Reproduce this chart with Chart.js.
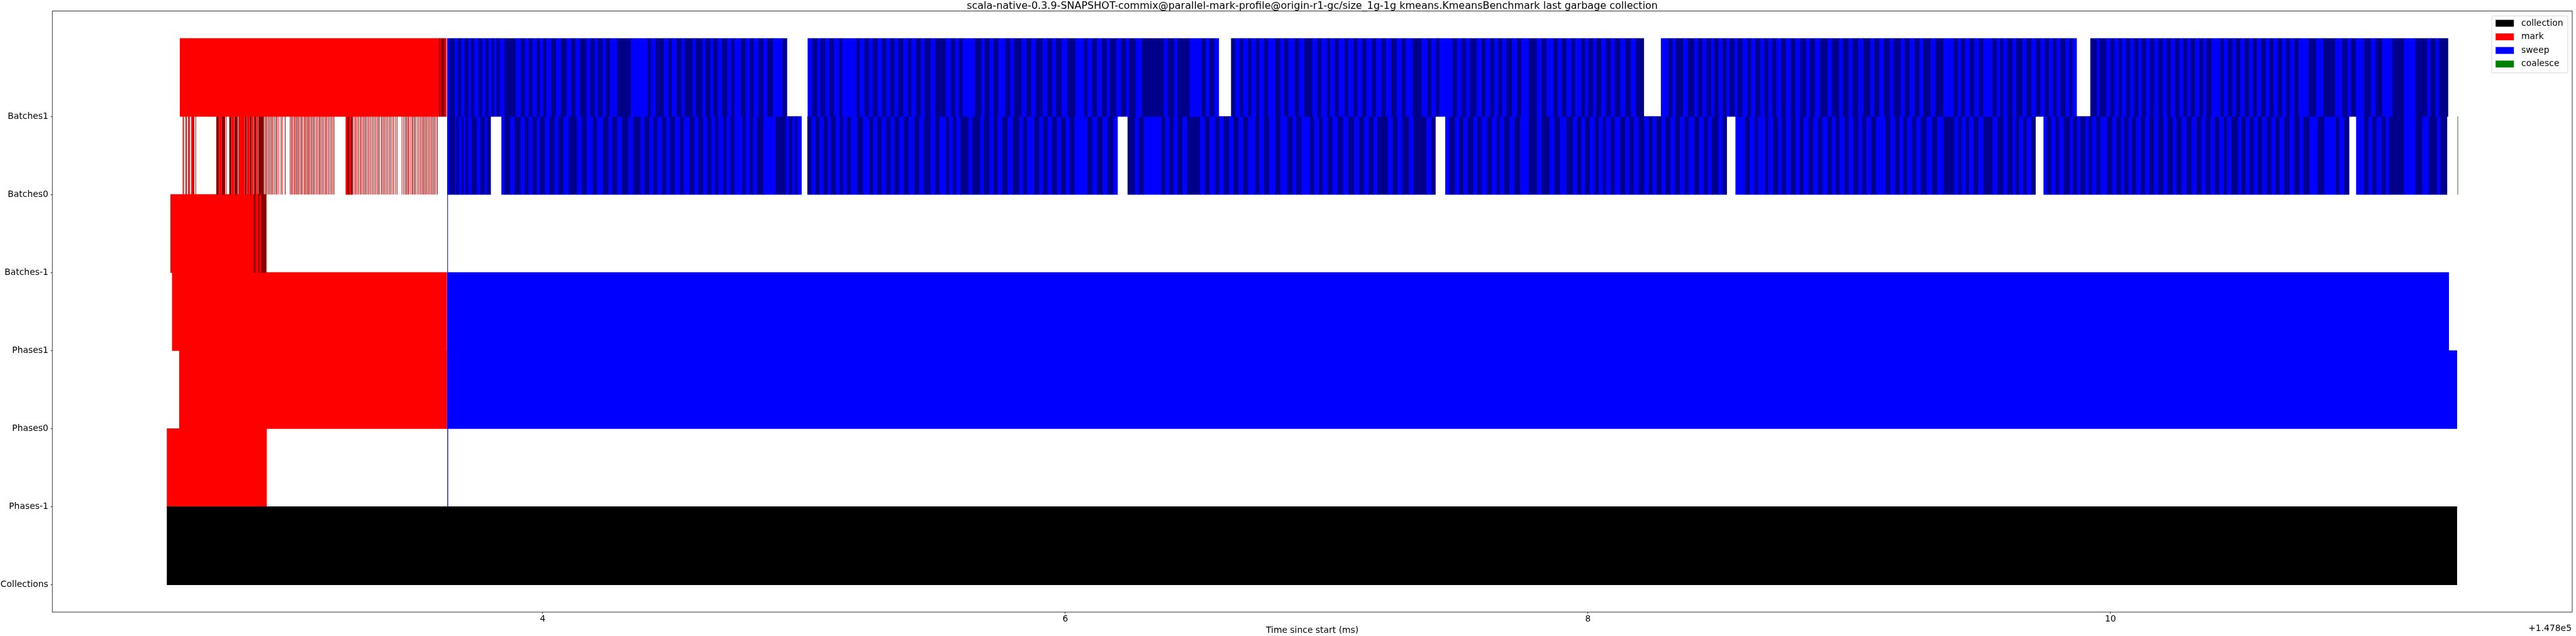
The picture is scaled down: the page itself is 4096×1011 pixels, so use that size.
<!DOCTYPE html>
<html>
<head>
<meta charset="utf-8">
<script src="https://cdn.jsdelivr.net/npm/chart.js@4.4.0/dist/chart.umd.min.js"></script>
<style>
    html, body { margin: 0; padding: 0; background: #fff; overflow: hidden; }
</style>
</head>
<body>
<canvas id="gcChart" width="4096" height="1011"></canvas>
<script>
// Textes
const chartTitle = "scala-native-0.3.9-SNAPSHOT-commix@parallel-mark-profile@origin-r1-gc/size_1g-1g kmeans.KmeansBenchmark last garbage collection";
const xTitle = "Time since start (ms)";
const xOffsetLabel = "+1.478e5";
const rowLabels = ["Collections", "Phases-1", "Phases0", "Phases1", "Batches-1", "Batches0", "Batches1"];
const rowTicks = [0, 1, 2, 3, 4, 5, 6];
const xTicks = [4, 6, 8, 10];
const seriesNames = ["collection", "mark", "sweep", "coalesce"];

// Temps en ms (offset 1.478e5). Chaque segment = bornes successives des lots
const collectionSpans = [[2.5626, 11.3255]];

const markPhasesM1 = [[2.5626, 2.9434]];
const markPhases0 = [[2.6099, 3.6329]];
const markPhases1 = [[2.5825, 3.6329]];
const sweepPhasesM1 = [[3.6354, 3.6379]];
const sweepPhases0 = [[3.6342, 11.3255]];
const sweepPhases1 = [[3.6354, 11.2943]];

const markBatchesM1 = [[2.5763, 2.8948, 2.9023, 2.9122, 2.9172, 2.9234, 2.9421]];
const sweepBatchesM1 = [[3.6354, 3.6372]];

const markBatches1 = [[2.6123, 3.6042, 3.6092, 3.6129, 3.6254, 3.6316]];
const sweepBatches1 = [
    [3.6354, 3.6448, 3.6645, 3.6768, 3.6891, 3.7014, 3.7162, 3.7260, 3.7383, 3.7555, 3.7691, 3.7814, 3.7937, 3.8060, 3.8146, 3.8244, 3.8367, 3.8552, 3.8982, 3.9167, 3.9326, 3.9474, 3.9622, 3.9782, 3.9905, 4.0028, 4.0151, 4.0335, 4.0520, 4.0704, 4.0925, 4.1098, 4.1258, 4.1442, 4.1688, 4.1836, 4.1996, 4.2119, 4.2303, 4.2426, 4.2586, 4.2857, 4.3385, 4.4025, 4.4148, 4.4333, 4.4640, 4.4825, 4.4948, 4.5132, 4.5317, 4.5440, 4.5747, 4.5870, 4.6116, 4.6239, 4.6424, 4.6547, 4.6706, 4.6879, 4.7075, 4.7223, 4.7346, 4.7592, 4.7777, 4.7936, 4.8084, 4.8269, 4.8453, 4.8601, 4.8822, 4.9191, 4.9347],
    [5.0150, 5.0323, 5.0519, 5.0642, 5.0815, 5.0975, 5.1159, 5.1344, 5.1467, 5.2020, 5.2143, 5.2328, 5.2487, 5.2635, 5.2820, 5.3004, 5.3152, 5.3312, 5.3471, 5.3619, 5.3804, 5.3988, 5.4111, 5.4296, 5.4480, 5.4628, 5.4849, 5.5034, 5.5443, 5.5628, 5.5787, 5.5935, 5.6083, 5.6550, 5.6796, 5.6919, 5.7104, 5.7263, 5.7436, 5.7719, 5.7903, 5.8051, 5.8334, 5.8518, 5.8703, 5.8887, 5.9133, 5.9318, 5.9502, 5.9650, 5.9871, 6.0092, 6.0400, 6.0732, 6.0855, 6.1040, 6.1224, 6.1409, 6.1593, 6.1716, 6.1962, 6.2147, 6.2331, 6.2454, 6.2700, 6.2946, 6.3782, 6.3930, 6.4176, 6.4299, 6.4766, 6.5222, 6.5381, 6.5529, 6.5714, 6.5873],
    [6.6353, 6.6513, 6.6698, 6.6821, 6.7005, 6.7128, 6.7313, 6.7436, 6.7620, 6.7768, 6.8051, 6.8235, 6.8383, 6.8543, 6.8789, 6.8948, 6.9158, 6.9465, 6.9650, 6.9809, 7.0019, 7.0142, 7.0326, 7.0474, 7.0695, 7.0843, 7.1039, 7.1187, 7.1372, 7.1531, 7.1741, 7.1900, 7.2110, 7.2269, 7.2479, 7.2688, 7.2884, 7.3032, 7.3303, 7.3647, 7.3868, 7.4016, 7.4201, 7.4324, 7.4832, 7.5005, 7.5189, 7.5349, 7.5497, 7.5743, 7.5939, 7.6087, 7.6272, 7.6431, 7.6579, 7.6727, 7.6887, 7.7108, 7.7292, 7.7465, 7.7748, 7.8055, 7.8240, 7.8424, 7.8695, 7.8855, 7.9014, 7.9187, 7.9383, 7.9531, 7.9752, 7.9900, 8.0023, 8.0208, 8.0331, 8.0515, 8.0700, 8.0884, 8.1032, 8.1253, 8.1438, 8.1647, 8.1844, 8.2139],
    [8.2803, 8.3098, 8.3246, 8.3369, 8.3652, 8.3836, 8.4082, 8.4230, 8.4390, 8.4549, 8.4721, 8.4845, 8.5004, 8.5164, 8.5312, 8.5435, 8.5620, 8.5743, 8.5927, 8.6112, 8.6247, 8.6419, 8.6604, 8.6763, 8.6911, 8.7059, 8.7219, 8.7403, 8.7588, 8.7772, 8.7957, 8.8141, 8.8362, 8.8510, 8.8695, 8.8904, 8.9187, 8.9347, 8.9617, 8.9765, 8.9986, 9.0134, 9.0355, 9.0540, 9.0822, 9.0970, 9.1155, 9.1339, 9.1560, 9.1708, 9.1979, 9.2139, 9.2323, 9.2508, 9.2692, 9.2840, 9.3123, 9.3307, 9.3615, 9.4004, 9.4156, 9.4283, 9.4435, 9.4626, 9.4791, 9.4969, 9.5134, 9.5490, 9.5655, 9.5782, 9.5909, 9.6061, 9.6252, 9.6404, 9.6633, 9.6798, 9.6975, 9.7153, 9.7331, 9.7496, 9.7649, 9.7814, 9.7941, 9.8093, 9.8284, 9.8436, 9.8550, 9.8703],
    [9.9236, 9.9490, 9.9592, 9.9846, 9.9998, 10.0150, 10.0316, 10.0443, 10.0608, 10.0760, 10.0912, 10.1078, 10.1205, 10.1370, 10.1522, 10.1674, 10.1839, 10.2005, 10.2157, 10.2309, 10.2474, 10.2640, 10.2792, 10.2944, 10.3071, 10.3237, 10.3402, 10.3554, 10.3681, 10.3872, 10.4214, 10.4341, 10.4507, 10.4672, 10.4799, 10.4976, 10.5142, 10.5307, 10.5459, 10.5611, 10.5776, 10.5942, 10.6094, 10.6246, 10.6411, 10.6577, 10.6729, 10.6881, 10.7047, 10.7212, 10.7593, 10.7872, 10.8151, 10.8609, 10.8888, 10.9079, 10.9206, 10.9396, 10.9714, 10.9968, 11.0158, 11.0412, 11.0793, 11.1238, 11.1682, 11.2127, 11.2254, 11.2444, 11.2571, 11.2914]
];

// Batches0 : lots de marquage (blocs larges + lots très courts)
const markBatches0Blocks = [
    [2.6580, 2.6636], [2.7518, 2.7605], [2.7623, 2.7710], [2.7727, 2.7841], [2.8016, 2.8077], [2.8103, 2.8190],
    [2.8216, 2.8321], [2.8365, 2.8583], [2.8609, 2.8670], [2.8696, 2.8775], [2.8801, 2.8862], [2.8888, 2.8932],
    [2.8967, 2.9019], [2.9046, 2.9089], [2.9124, 2.9325], [3.2468, 3.2511], [3.2529, 3.2581], [3.2599, 3.2651], [3.2669, 3.2730]
];
const markBatches0Starts = [
    2.6226, 2.6252, 2.6331, 2.6357, 2.6427, 2.6461, 2.6488, 2.6558, 2.6645, 2.6715, 2.7885,
    2.9369, 2.9412, 2.9456, 2.9508, 2.9561, 2.9613, 2.9657, 2.9718, 2.9779, 2.9823, 2.9892, 2.9980, 3.0032, 3.0137,
    3.0329, 3.0381, 3.0425, 3.0486, 3.0521, 3.0573, 3.0617, 3.0661, 3.0722, 3.0765, 3.0818, 3.0879, 3.0914, 3.0966,
    3.1010, 3.1045, 3.1097, 3.1150, 3.1202, 3.1246, 3.1307, 3.1359, 3.1420, 3.1464, 3.1516, 3.1569, 3.1621, 3.1682,
    3.1726, 3.1787, 3.1839, 3.1900, 3.1953, 3.2005,
    3.2773, 3.2826, 3.2869, 3.2930, 3.2991, 3.3035, 3.3087, 3.3140, 3.3192, 3.3236, 3.3297, 3.3349, 3.3410, 3.3472,
    3.3524, 3.3585, 3.3646, 3.3699, 3.3751, 3.3821, 3.3873, 3.3926, 3.3978, 3.4039, 3.4100, 3.4153, 3.4214, 3.4275,
    3.4345, 3.4415,
    3.4607, 3.4676, 3.4738, 3.4781, 3.4834, 3.4869, 3.4938, 3.4999, 3.5043, 3.5095, 3.5148, 3.5218, 3.5279, 3.5331,
    3.5392, 3.5427, 3.5480, 3.5532, 3.5584, 3.5637, 3.5689, 3.5741, 3.5794, 3.5846, 3.5899, 3.5960
];
const shortBatch = 0.0018;

const sweepBatches0 = [
    [3.6354, 3.6441, 3.6652, 3.6701, 3.6801, 3.6901, 3.6976, 3.7063, 3.7163, 3.7287, 3.7480, 3.7630, 3.7790, 3.7880, 3.8009],
    [3.8429, 3.8552, 3.8761, 3.8933, 3.9167, 3.9326, 3.9474, 3.9622, 3.9782, 3.9905, 4.0089, 4.0274, 4.0458, 4.0606, 4.0802, 4.1012, 4.1319, 4.1504, 4.1688, 4.1934, 4.2082, 4.2328, 4.2524, 4.2672, 4.2857, 4.3041, 4.3287, 4.3472, 4.3754, 4.3902, 4.4087, 4.4246, 4.4394, 4.4579, 4.4738, 4.4886, 4.5071, 4.5255, 4.5403, 4.5624, 4.5809, 4.5968, 4.6141, 4.6301, 4.6460, 4.6608, 4.6731, 4.6916, 4.7039, 4.7198, 4.7346, 4.7654, 4.7777, 4.7936, 4.8059, 4.8207, 4.8453, 4.8920, 4.9314, 4.9437, 4.9560, 4.9658, 4.9745, 4.9904],
    [5.0138, 5.0298, 5.0446, 5.0606, 5.0765, 5.0913, 5.1036, 5.1221, 5.1380, 5.1503, 5.1651, 5.1799, 5.2045, 5.2266, 5.2512, 5.2660, 5.2820, 5.2979, 5.3152, 5.3312, 5.3471, 5.3644, 5.3828, 5.4013, 5.4234, 5.4419, 5.4603, 5.4849, 5.5034, 5.5193, 5.5443, 5.5566, 5.5714, 5.5837, 5.5997, 5.6304, 5.6452, 5.6759, 5.6894, 5.7104, 5.7263, 5.7411, 5.7596, 5.7805, 5.8001, 5.8247, 5.8395, 5.8543, 5.8826, 5.9010, 5.9158, 5.9330, 5.9502, 5.9687, 5.9846, 6.0019, 6.0179, 6.0363, 6.0855, 6.1040, 6.1224, 6.1433, 6.1618, 6.1839, 6.1999],
    [6.2393, 6.2675, 6.2823, 6.3008, 6.3684, 6.3832, 6.3992, 6.4151, 6.4299, 6.4484, 6.4668, 6.5160, 6.5345, 6.5529, 6.5750, 6.5898, 6.6083, 6.6267, 6.6452, 6.6636, 6.6821, 6.7005, 6.7276, 6.7436, 6.7620, 6.7805, 6.8051, 6.8235, 6.8506, 6.8702, 6.8850, 6.9035, 6.9379, 6.9527, 6.9711, 6.9859, 7.0055, 7.0228, 7.0424, 7.0634, 7.0843, 7.1064, 7.1249, 7.1433, 7.1618, 7.1802, 7.1950, 7.2356, 7.2540, 7.2725, 7.2909, 7.3155, 7.3340, 7.3832, 7.4016, 7.4164],
    [7.4549, 7.4709, 7.4919, 7.5078, 7.5251, 7.5411, 7.5620, 7.5780, 7.5939, 7.6148, 7.6333, 7.6518, 7.6641, 7.6800, 7.7010, 7.7194, 7.7415, 7.7748, 7.8055, 7.8240, 7.8547, 7.8732, 7.8941, 7.9187, 7.9433, 7.9593, 7.9752, 7.9900, 8.0085, 8.0269, 8.0417, 8.0577, 8.0700, 8.0884, 8.1032, 8.1253, 8.1438, 8.1597, 8.1770, 8.1942, 8.2163, 8.2335, 8.2483, 8.2631, 8.2828, 8.2975, 8.3160, 8.3344, 8.3529, 8.3713, 8.3861, 8.4082, 8.4267, 8.4451, 8.4599, 8.4759, 8.5005, 8.5164, 8.5312],
    [8.5656, 8.6025, 8.6198, 8.6394, 8.6517, 8.6788, 8.6911, 8.7096, 8.7280, 8.7428, 8.7588, 8.7772, 8.7957, 8.8116, 8.8264, 8.8449, 8.8633, 8.8818, 8.8977, 8.9187, 8.9346, 8.9494, 8.9642, 8.9838, 8.9986, 9.0171, 9.0355, 9.0503, 9.0663, 9.0847, 9.1032, 9.1400, 9.1585, 9.1770, 9.1929, 9.2077, 9.2225, 9.2421, 9.2569, 9.2754, 9.2963, 9.3184, 9.3369, 9.3615, 9.4029, 9.4181, 9.4308, 9.4474, 9.4601, 9.4766, 9.4943, 9.5147, 9.5490, 9.5680, 9.5909, 9.6061, 9.6252, 9.6379, 9.6506, 9.6671, 9.6798, 9.6975, 9.7128],
    [9.7445, 9.7585, 9.7737, 9.7903, 9.8030, 9.8220, 9.8449, 9.8576, 9.8728, 9.8855, 9.9046, 9.9173, 9.9300, 9.9465, 9.9617, 9.9871, 10.0074, 10.0227, 10.0404, 10.0531, 10.0697, 10.0824, 10.0989, 10.1166, 10.1332, 10.1497, 10.1674, 10.1839, 10.2030, 10.2182, 10.2386, 10.2538, 10.2729, 10.2919, 10.3110, 10.3300, 10.3491, 10.3656, 10.3834, 10.3999, 10.4164, 10.4342, 10.4469, 10.4634, 10.4888, 10.5015, 10.5180, 10.5332, 10.5484, 10.5650, 10.5815, 10.5992, 10.6158, 10.6323, 10.6475, 10.6666, 10.6856, 10.7047, 10.7237, 10.7389, 10.7618, 10.7937, 10.8189, 10.8634, 10.8761, 10.8952, 10.9129],
    [10.9409, 10.9714, 10.9879, 11.0031, 11.0183, 11.0387, 11.0539, 11.0666, 11.1238, 11.1682, 11.1936, 11.2190, 11.2508, 11.2635, 11.2876]
];

const coalesceBatches0Starts = [3.6727, 3.8933, 4.8453, 5.0421, 5.7805, 6.0732, 6.3832, 6.5381, 6.8038, 6.9527, 8.2163, 9.9477, 10.1497, 10.4875, 10.8646, 11.0577, 11.3282];
const coalesceBatch = 0.0015;

// Couleurs (clair / foncé en alternance)
const palette = {
    collection: ["#000000", "#000000"],
    mark: ["#ff0000", "#8b0000"],
    sweep: ["#0000ff", "#00008b"],
    coalesce: ["#008000", "#008000"]
};
const FONT = "'DejaVu Sans', sans-serif";

// une barre par lot, y = milieu de la ligne
function rowBars(segments, row) {
    const bars = [];
    let k = 0;
    for (const seg of segments) {
        for (let i = 0; i + 1 < seg.length; i++) {
            bars.push({ x: [seg[i], seg[i + 1]], y: row + 0.5, shade: k++ % 2 });
        }
    }
    return bars;
}

const markB0 = markBatches0Blocks
    .concat(markBatches0Starts.map(s => [s, s + shortBatch]))
    .sort((a, b) => a[0] - b[0]);

const seriesData = {
    collection: rowBars(collectionSpans, 0),
    mark: [].concat(
        rowBars(markPhasesM1, 1), rowBars(markPhases0, 2), rowBars(markPhases1, 3),
        rowBars(markBatchesM1, 4), rowBars(markB0, 5), rowBars(markBatches1, 6)),
    sweep: [].concat(
        rowBars(sweepPhasesM1, 1), rowBars(sweepPhases0, 2), rowBars(sweepPhases1, 3),
        rowBars(sweepBatchesM1, 4), rowBars(sweepBatches0, 5), rowBars(sweepBatches1, 6)),
    coalesce: rowBars(coalesceBatches0Starts.map(s => [s, s + coalesceBatch]), 5)
};

// titre, cadre, texte d'offset et légende façon matplotlib
const mplDecor = {
    id: "mplDecor",
    afterDatasetsDraw(chart) {
        const { ctx, chartArea: a } = chart;
        ctx.save();
        ctx.strokeStyle = "#000";
        ctx.lineWidth = 0.8;
        ctx.strokeRect(a.left, a.top, a.right - a.left, a.bottom - a.top);
        ctx.restore();
    },
    afterDraw(chart) {
        const { ctx, chartArea: a } = chart;
        ctx.save();
        ctx.fillStyle = "#000";
        ctx.font = "16px " + FONT;
        ctx.textAlign = "center";
        ctx.textBaseline = "alphabetic";
        ctx.fillText(chartTitle, (a.left + a.right) / 2, 14);

        ctx.font = "13.9px " + FONT;
        ctx.textAlign = "right";
        ctx.textBaseline = "middle";
        ctx.fillText(xOffsetLabel, a.right - 1, 999);

        // légende
        const w = 121, h = 90.5;
        const lx = a.right - 7 - w, ly = a.top + 7.7;
        ctx.fillStyle = "rgba(255,255,255,0.8)";
        ctx.strokeStyle = "#cccccc";
        ctx.lineWidth = 0.8;
        ctx.beginPath();
        ctx.roundRect(lx, ly, w, h, 2.5);
        ctx.fill();
        ctx.stroke();
        ctx.textAlign = "left";
        seriesNames.forEach((name, i) => {
            const cy = ly + 11.7 + i * 21.6;
            ctx.fillStyle = palette[name][0];
            ctx.fillRect(lx + 6.2, cy - 5.45, 29, 10.9);
            ctx.fillStyle = "#000";
            ctx.fillText(name, lx + 47, cy);
        });
        ctx.restore();
    }
};

new Chart(document.getElementById("gcChart"), {
    type: "bar",
    data: {
        datasets: seriesNames.map(name => ({
            label: name,
            data: seriesData[name],
            grouped: false,
            categoryPercentage: 1,
            barPercentage: 1,
            borderWidth: 0,
            // lots très courts : pas d'élargissement ; lots longs : recouvrement pour éviter les jointures
            inflateAmount: ctx => (ctx.raw && ctx.raw.x[1] - ctx.raw.x[0] < 0.003) ? 0.15 : 0.4,
            backgroundColor: ctx => palette[name][ctx.raw ? ctx.raw.shade : 0]
        }))
    },
    options: {
        indexAxis: "y",
        responsive: false,
        animation: false,
        events: [],
        layout: { padding: { left: 0, right: 6, top: 17.6, bottom: 0 } },
        plugins: {
            legend: { display: false },
            tooltip: { enabled: false },
            title: { display: false }
        },
        scales: {
            x: {
                type: "linear",
                min: 2.1235,
                max: 11.767,
                offset: false,
                afterBuildTicks: s => { s.ticks = xTicks.map(v => ({ value: v })); },
                afterFit: s => { s.height = 38; },
                ticks: {
                    callback: v => String(v),
                    font: { family: FONT, size: 13.9 },
                    color: "#000",
                    padding: 0,
                    maxRotation: 0,
                    autoSkip: false
                },
                grid: { offset: false, drawOnChartArea: false, drawTicks: true, tickLength: 2.6, color: "#000", lineWidth: 0.8 },
                border: { display: false },
                title: {
                    display: true,
                    text: xTitle,
                    font: { family: FONT, size: 13.9 },
                    color: "#000",
                    padding: { top: 0, bottom: 0.7 }
                }
            },
            y: {
                type: "linear",
                min: -0.35,
                max: 7.35,
                offset: false,
                afterBuildTicks: s => { s.ticks = rowTicks.map(v => ({ value: v })); },
                afterFit: s => { s.width = 83.2; },
                ticks: {
                    callback: v => rowLabels[v],
                    font: { family: FONT, size: 13.9 },
                    color: "#000",
                    padding: 3.8,
                    autoSkip: false
                },
                grid: { offset: false, drawOnChartArea: false, drawTicks: true, tickLength: 2.6, color: "#000", lineWidth: 0.8 },
                border: { display: false }
            }
        }
    },
    plugins: [mplDecor]
});
</script>
</body>
</html>
